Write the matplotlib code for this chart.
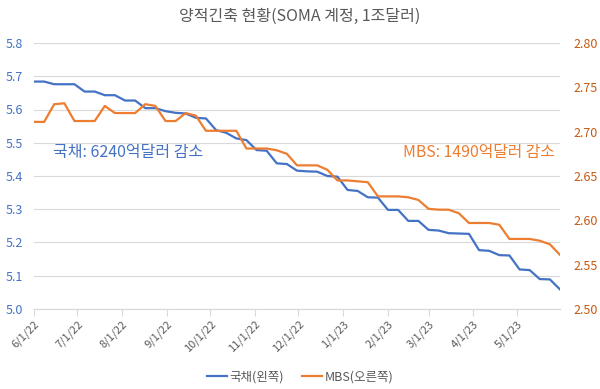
import matplotlib
matplotlib.use("Agg")
import matplotlib.pyplot as plt
import matplotlib.dates as mdates
import pandas as pd

plt.rcParams["font.family"] = ["Noto Sans CJK KR", "DejaVu Sans"]

# weekly SOMA holdings, trillion dollars (Wednesdays from 6/1/22)
start_date = "2022-06-01"
treasury = [
    5.684, 5.684, 5.676, 5.676, 5.676, 5.654, 5.654, 5.643, 5.643, 5.627,
    5.627, 5.604, 5.604, 5.595, 5.590, 5.588, 5.575, 5.573, 5.538, 5.530,
    5.513, 5.508, 5.478, 5.476, 5.438, 5.436, 5.416, 5.414, 5.413, 5.400,
    5.398, 5.358, 5.355, 5.336, 5.335, 5.298, 5.298, 5.265, 5.265, 5.238,
    5.236, 5.228, 5.227, 5.226, 5.177, 5.175, 5.162, 5.161, 5.119, 5.117,
    5.090, 5.089, 5.059,
]
mbs = [
    2.711, 2.711, 2.731, 2.732, 2.712, 2.712, 2.712, 2.729, 2.721, 2.721,
    2.721, 2.731, 2.729, 2.712, 2.712, 2.721, 2.718, 2.701, 2.701, 2.701,
    2.701, 2.681, 2.681, 2.681, 2.679, 2.675, 2.662, 2.662, 2.662, 2.657,
    2.645, 2.645, 2.644, 2.643, 2.627, 2.627, 2.627, 2.626, 2.623, 2.613,
    2.612, 2.612, 2.608, 2.597, 2.597, 2.597, 2.595, 2.579, 2.579, 2.579,
    2.577, 2.573, 2.561,
]
dates = pd.date_range(start_date, periods=len(treasury), freq="7D")

left_ticks = [5.0, 5.1, 5.2, 5.3, 5.4, 5.5, 5.6, 5.7, 5.8]
right_ticks = [2.50, 2.55, 2.60, 2.65, 2.70, 2.75, 2.80]

title = "양적긴축 현황(SOMA 계정, 1조달러)"
treasury_label = "국채(왼쪽)"
mbs_label = "MBS(오른쪽)"
treasury_note = "국채: 6240억달러 감소"
mbs_note = "MBS: 1490억달러 감소"

blue = "#4472C4"
orange = "#ED7D31"
grey = "#595959"
grid = "#D9D9D9"

fig = plt.figure(figsize=(6.0, 3.89), dpi=100)
ax = fig.add_axes([34 / 600, 1 - 309 / 389, (560 - 34) / 600, (309 - 43) / 389])
ax2 = ax.twinx()

ax.plot(dates, treasury, color=blue, lw=1.6, label=treasury_label)
ax2.plot(dates, mbs, color=orange, lw=1.6, label=mbs_label)

ax.set_ylim(5.0, 5.8)
ax.set_yticks(left_ticks)
ax.set_yticklabels([f"{v:.1f}" for v in left_ticks])
ax2.set_ylim(2.50, 2.80)
ax2.set_yticks(right_ticks)
ax2.set_yticklabels([f"{v:.2f}" for v in right_ticks])
ax.set_xlim(pd.Timestamp("2022-06-01"), pd.Timestamp("2023-05-31"))

ax.grid(axis="y", color=grid, lw=0.8)
ax.set_axisbelow(True)
for a in (ax, ax2):
    for side in ("top", "left", "right"):
        a.spines[side].set_visible(False)
    a.spines["bottom"].set_color(grid)

ax.xaxis.set_major_locator(mdates.MonthLocator())
ax.xaxis.set_major_formatter(mdates.DateFormatter("%-m/%-d/%y"))
ax.tick_params(axis="x", colors=grid, length=5, direction="out", labelsize=8,
               labelcolor=grey, pad=2)
for lbl in ax.get_xticklabels():
    lbl.set_rotation(45)
    lbl.set_ha("right")
    lbl.set_rotation_mode("anchor")

ax.tick_params(axis="y", length=0, labelsize=9, labelcolor=blue, pad=8)
ax2.tick_params(axis="y", length=0, labelsize=9, labelcolor="#C55A11", pad=10)

fig.text(0.5, 1 - 16 / 389, title, ha="center", va="center", fontsize=11.5, color=grey)
fig.text(53 / 600, 1 - 153 / 389, treasury_note, fontsize=11.5, color=blue, va="center")
fig.text(555 / 600, 1 - 153 / 389, mbs_note, ha="right", va="center", fontsize=11.4,
         color=orange)

h1, l1 = ax.get_legend_handles_labels()
h2, l2 = ax2.get_legend_handles_labels()
fig.legend(h1 + h2, l1 + l2, loc="center", bbox_to_anchor=(0.5, 1 - 377 / 389),
           ncol=2, frameon=False, fontsize=9, labelcolor=grey, handlelength=1.6,
           handletextpad=0.2, columnspacing=1.5)

fig.savefig("out.png", dpi=100)
